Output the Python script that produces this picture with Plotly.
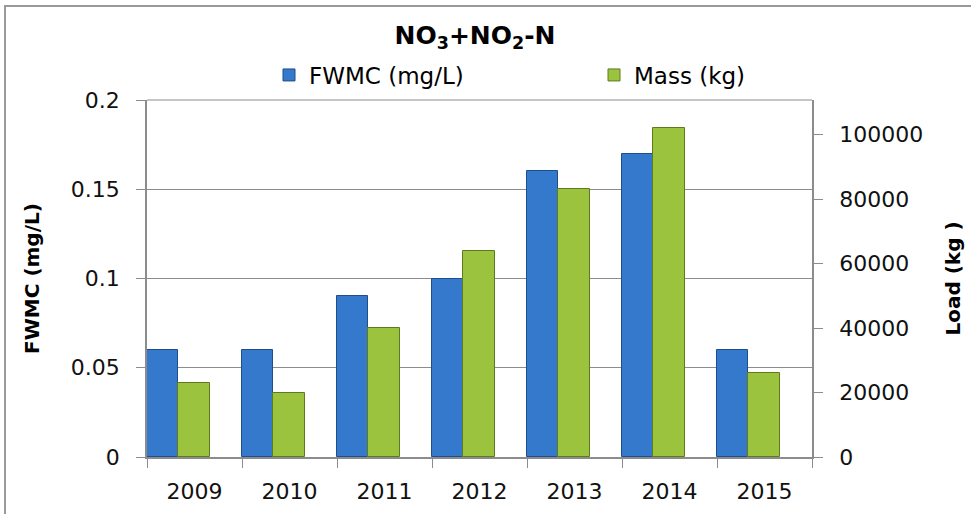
import plotly.graph_objects as go

years = ["2009", "2010", "2011", "2012", "2013", "2014", "2015"]
fwmc = [0.06, 0.06, 0.09, 0.10, 0.16, 0.17, 0.06]
mass = [23000, 20000, 40000, 64000, 83000, 102000, 26000]
left_ticks = [0, 0.05, 0.1, 0.15, 0.2]
left_tick_text = ["0", "0.05", "0.1", "0.15", "0.2"]
right_ticks = [0, 20000, 40000, 60000, 80000, 100000]
right_tick_text = ["0", "20000", "40000", "60000", "80000", "100000"]

L, R, T, B = 147, 812, 100, 457
W, H = 971, 514

def px(x):
    return (x - L) / (R - L)

def py(y):
    return (B - y) / (B - T)

fig = go.Figure()
fig.add_trace(go.Bar(
    x=years, y=fwmc, name="FWMC (mg/L)", yaxis="y",
    marker=dict(color="#3479CC", line=dict(color="#1F4E8C", width=1)),
    width=0.33, offset=-0.5,
))
fig.add_trace(go.Bar(
    x=years, y=mass, name="Mass (kg)", yaxis="y2",
    marker=dict(color="#9BC33D", line=dict(color="#5E7A1E", width=1)),
    width=0.33, offset=-0.17,
))

font = "DejaVu Sans, sans-serif"
fig.update_layout(
    width=W, height=H,
    margin=dict(l=L, r=W - R, t=T, b=H - B),
    paper_bgcolor="white", plot_bgcolor="white",
    font=dict(family=font, color="#111"),
    title=dict(text="<b>NO<sub>3</sub>+NO<sub>2</sub>-N</b>", x=475 / W, xref="container", xanchor="center",
               y=1 - 35 / H, yanchor="middle", font=dict(size=25, color="#000")),
    showlegend=True,
    legend=dict(orientation="h", xref="container", x=269 / W, xanchor="left",
                yref="container", y=1 - 75 / H, yanchor="middle",
                font=dict(size=23, color="#000"), entrywidth=280, entrywidthmode="pixels",
                bgcolor="rgba(0,0,0,0)"),
    bargap=0.0,
    xaxis=dict(type="category", showline=True, linecolor="#8c8c8c", linewidth=1.5,
               ticks="outside", tickson="boundaries", ticklen=9, tickcolor="#8c8c8c",
               ticklabelstandoff=14,
               tickfont=dict(size=22, color="#111"), showgrid=False, automargin=False),
    yaxis=dict(range=[0, 0.2], tickvals=left_ticks, ticktext=left_tick_text, showline=True,
               linecolor="#8c8c8c", linewidth=1.5, ticks="outside", ticklen=9,
               tickcolor="#8c8c8c", showgrid=True, gridcolor="#8c8c8c", gridwidth=1.2,
               ticklabelstandoff=12,
               zeroline=False, tickfont=dict(size=22, color="#111"), automargin=False,
               title=dict(text="<b>FWMC (mg/L)</b>", font=dict(size=20, color="#000"), standoff=26)),
    yaxis2=dict(range=[0, 110700], tickvals=right_ticks, ticktext=right_tick_text,
                overlaying="y", side="right",
                showline=True, linecolor="#8c8c8c", linewidth=1.5, ticks="outside",
                ticklen=9, tickcolor="#8c8c8c", showgrid=False, zeroline=False,
                ticklabelstandoff=12,
                tickfont=dict(size=22, color="#111"), automargin=False,
                title=dict(text="<b>Load (kg )</b>", font=dict(size=20, color="#000"), standoff=24)),
    shapes=[
        dict(type="line", xref="paper", yref="paper", x0=0, x1=1, y0=1, y1=1,
             line=dict(color="#8c8c8c", width=1.2)),
        dict(type="rect", xref="paper", yref="paper", x0=px(5), x1=px(990), y0=py(530), y1=py(6),
             line=dict(color="#9a9a9a", width=2), layer="below"),
    ],
)

fig.write_html("out.html", config={"displayModeBar": False},
               post_script="document.body.style.margin='0px';")
